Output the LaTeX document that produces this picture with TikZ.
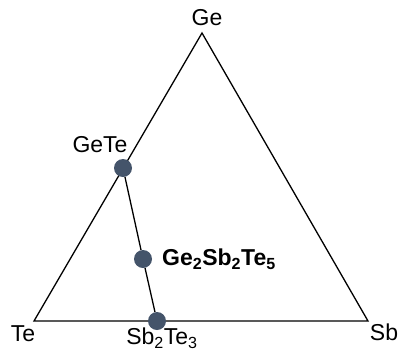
\documentclass[tikz,border=0pt]{standalone}
\usepackage{fontspec}
\setmainfont{Liberation Sans}
\definecolor{dotc}{HTML}{44546A}
\begin{document}
\begin{tikzpicture}[x=1pt,y=-1pt,
  lbl/.style={inner sep=0pt,font=\fontsize{23}{27}\selectfont},
  dot/.style={circle,fill=dotc,minimum size=18pt,inner sep=0pt},
  edge/.style={line width=1.3pt}]
\useasboundingbox (0,0) rectangle (399,360);
\coordinate (Ge) at (202,33);
\coordinate (Te) at (34,321);
\coordinate (Sb) at (368,321);
\draw[edge,line join=miter] (Ge) -- (Te) -- (Sb) -- cycle;
\node[dot] (GeTe) at (123,168) {};
\node[dot] (GST) at (143,259) {};
\node[dot] (SbTe) at (157,321) {};
\draw[edge] (GeTe) -- (GST) -- (SbTe);
\node[lbl] (lGe) at (207,18) {Ge};
\node[lbl] (lGeTe) at (100,145) {GeTe};
\node[lbl,anchor=west,font=\fontsize{23}{27}\selectfont\bfseries] (lGST) at (162,259) {Ge\textsubscript{2}Sb\textsubscript{2}Te\textsubscript{5}};
\node[lbl] (lTe) at (23,334) {Te};
\node[lbl] (lSbTe) at (162,338) {Sb\textsubscript{2}Te\textsubscript{3}};
\node[lbl] (lSb) at (384,332) {Sb};
\end{tikzpicture}
\end{document}
